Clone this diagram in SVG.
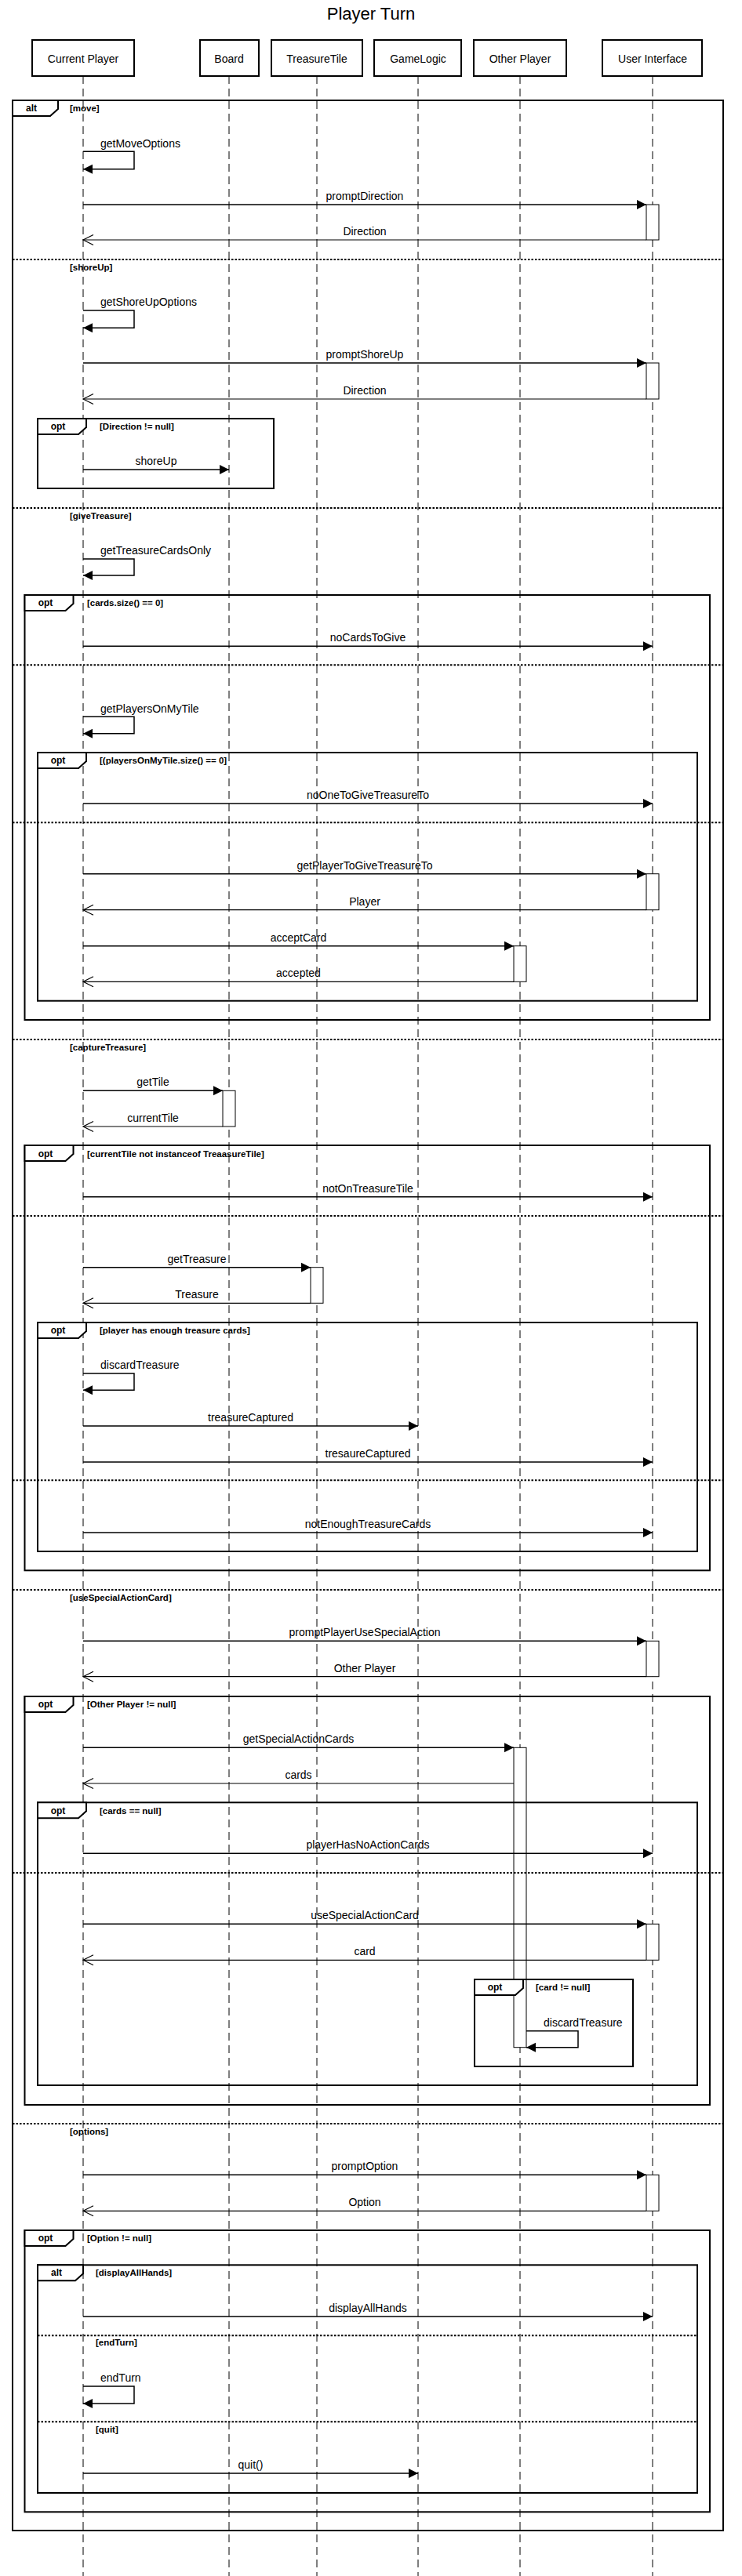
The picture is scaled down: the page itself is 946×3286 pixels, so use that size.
<svg xmlns="http://www.w3.org/2000/svg" width="946" height="3286" viewBox="0 0 946 3286">
<style>
text{font-family:"Liberation Sans",Arial,sans-serif;fill:#000}
.title{font-size:22px;text-anchor:middle}
.pt{font-size:14px;text-anchor:middle}
.ml{font-size:14px;text-anchor:middle}
.sl{font-size:14px}
.g{font-size:11.5px;font-weight:bold}
.op{font-size:12px;font-weight:bold;text-anchor:middle}
.box{fill:#fff;stroke:#000;stroke-width:2}
.life{stroke:#000;stroke-width:1;stroke-dasharray:10,6;fill:none}
.act{fill:#fff;stroke:#000;stroke-width:1}
.frame{fill:none;stroke:#000;stroke-width:2}
.tab{fill:#fff;stroke:#000;stroke-width:2}
.sep{stroke:#000;stroke-width:2;stroke-dasharray:2.5,2;fill:none}
.call{stroke:#000;stroke-width:1.5;fill:none;marker-end:url(#fa)}
.ret{stroke:#000;stroke-width:1.2;fill:none;marker-end:url(#oa)}
</style>
<defs>
<marker id="fa" markerUnits="userSpaceOnUse" markerWidth="13" markerHeight="13" refX="12" refY="6" orient="auto" overflow="visible"><path d="M0,0 L12,6 L0,12 Z" fill="#000"/></marker>
<marker id="oa" markerUnits="userSpaceOnUse" markerWidth="14" markerHeight="14" refX="13" refY="6.5" orient="auto" overflow="visible"><path d="M0,0 L13,6.5 L0,13" fill="none" stroke="#000" stroke-width="1.2"/></marker>
</defs>
<rect width="946" height="3286" fill="#fff"/>
<text class="title" x="473" y="25">Player Turn</text>
<g id="lifelines">
<line class="life" x1="106" y1="97" x2="106" y2="3286"/>
<line class="life" x1="292" y1="97" x2="292" y2="3286"/>
<line class="life" x1="404" y1="97" x2="404" y2="3286"/>
<line class="life" x1="533" y1="97" x2="533" y2="3286"/>
<line class="life" x1="663" y1="97" x2="663" y2="3286"/>
<line class="life" x1="832" y1="97" x2="832" y2="3286"/>
</g>
<g id="p-current-player"><rect class="box" x="41" y="51" width="130" height="46"/><text class="pt" x="106" y="80">Current Player</text></g>
<g id="p-board"><rect class="box" x="255" y="51" width="75" height="46"/><text class="pt" x="292" y="80">Board</text></g>
<g id="p-treasuretile"><rect class="box" x="346" y="51" width="116" height="46"/><text class="pt" x="404" y="80">TreasureTile</text></g>
<g id="p-gamelogic"><rect class="box" x="477" y="51" width="111" height="46"/><text class="pt" x="533" y="80">GameLogic</text></g>
<g id="p-other-player"><rect class="box" x="604" y="51" width="118" height="46"/><text class="pt" x="663" y="80">Other Player</text></g>
<g id="p-user-interface"><rect class="box" x="768" y="51" width="127" height="46"/><text class="pt" x="832" y="80">User Interface</text></g>
<g id="activations">
<rect class="act" x="824" y="261" width="16" height="45"/>
<rect class="act" x="824" y="463" width="16" height="46"/>
<rect class="act" x="824" y="1114.7" width="16" height="46"/>
<rect class="act" x="655" y="1206.7" width="16" height="45.6"/>
<rect class="act" x="284" y="1391.3" width="16" height="45.7"/>
<rect class="act" x="396" y="1616.7" width="16" height="45.6"/>
<rect class="act" x="824" y="2093.3" width="16" height="45.4"/>
<rect class="act" x="655" y="2229.3" width="16" height="382.4"/>
<rect class="act" x="824" y="2454.3" width="16" height="46"/>
<rect class="act" x="824" y="2774.3" width="16" height="46"/>
</g>
<g id="frame-alt-main">
<rect class="frame" x="16" y="128" width="906" height="3100"/>
<path class="tab" d="M16,128 H74 V139 L64,148 H16 Z"/>
<text class="op" x="40" y="142">alt</text>
<text class="g" x="89" y="142">[move]</text>
<line class="sep" x1="16" y1="331" x2="922" y2="331"/>
<text class="g" x="89" y="345">[shoreUp]</text>
<line class="sep" x1="16" y1="648" x2="922" y2="648"/>
<text class="g" x="89" y="662">[giveTreasure]</text>
<line class="sep" x1="16" y1="1326" x2="922" y2="1326"/>
<text class="g" x="89" y="1340">[captureTreasure]</text>
<line class="sep" x1="16" y1="2028" x2="922" y2="2028"/>
<text class="g" x="89" y="2042">[useSpecialActionCard]</text>
<line class="sep" x1="16" y1="2709" x2="922" y2="2709"/>
<text class="g" x="89" y="2723">[options]</text>
</g>
<g id="frame-opt-direction">
<rect class="frame" x="48" y="534" width="301" height="89"/>
<path class="tab" d="M48,534 H110 V545 L100,554 H48 Z"/>
<text class="op" x="74" y="548">opt</text>
<text class="g" x="127" y="548">[Direction != null]</text>
</g>
<g id="frame-opt-cards-size">
<rect class="frame" x="31.5" y="759" width="873.5" height="542"/>
<path class="tab" d="M31.5,759 H93.5 V770 L83.5,779 H31.5 Z"/>
<text class="op" x="58" y="773">opt</text>
<text class="g" x="111" y="773">[cards.size() == 0]</text>
<line class="sep" x1="16" y1="848.3" x2="922" y2="848.3"/>
</g>
<g id="frame-opt-players">
<rect class="frame" x="48" y="960" width="841" height="316.7"/>
<path class="tab" d="M48,960 H110 V971 L100,980 H48 Z"/>
<text class="op" x="74" y="974">opt</text>
<text class="g" x="127" y="974">[(playersOnMyTile.size() == 0]</text>
<line class="sep" x1="16" y1="1049.3" x2="922" y2="1049.3"/>
</g>
<g id="frame-opt-currenttile">
<rect class="frame" x="31.5" y="1461" width="873.5" height="542.3"/>
<path class="tab" d="M31.5,1461 H93.5 V1472 L83.5,1481 H31.5 Z"/>
<text class="op" x="58" y="1476">opt</text>
<text class="g" x="111" y="1476">[currentTile not instanceof TreaasureTile]</text>
<line class="sep" x1="16" y1="1551" x2="922" y2="1551"/>
</g>
<g id="frame-opt-enough">
<rect class="frame" x="48" y="1687" width="841" height="292"/>
<path class="tab" d="M48,1687 H110 V1698 L100,1707 H48 Z"/>
<text class="op" x="74" y="1701">opt</text>
<text class="g" x="127" y="1701">[player has enough treasure cards]</text>
<line class="sep" x1="16" y1="1888.3" x2="922" y2="1888.3"/>
</g>
<g id="frame-opt-otherplayer">
<rect class="frame" x="31.5" y="2164" width="873.5" height="521"/>
<path class="tab" d="M31.5,2164 H93.5 V2175 L83.5,2184 H31.5 Z"/>
<text class="op" x="58" y="2178">opt</text>
<text class="g" x="111" y="2178">[Other Player != null]</text>
</g>
<g id="frame-opt-cards-null">
<rect class="frame" x="48" y="2299.3" width="841" height="360.7"/>
<path class="tab" d="M48,2299.3 H110 V2310.3 L100,2319.3 H48 Z"/>
<text class="op" x="74" y="2313.5">opt</text>
<text class="g" x="127" y="2313.5">[cards == null]</text>
<line class="sep" x1="16" y1="2389" x2="922" y2="2389"/>
</g>
<g id="frame-opt-card">
<rect class="frame" x="605" y="2525" width="202" height="111"/>
<path class="tab" d="M605,2525 H667 V2536 L657,2545 H605 Z"/>
<text class="op" x="631" y="2539">opt</text>
<text class="g" x="683" y="2539">[card != null]</text>
</g>
<g id="frame-opt-option">
<rect class="frame" x="31.5" y="2845" width="873.5" height="359.3"/>
<path class="tab" d="M31.5,2845 H93.5 V2856 L83.5,2865 H31.5 Z"/>
<text class="op" x="58" y="2859">opt</text>
<text class="g" x="111" y="2859">[Option != null]</text>
</g>
<g id="frame-alt-option">
<rect class="frame" x="48" y="2889.3" width="841" height="290.7"/>
<path class="tab" d="M48,2889.3 H106 V2900.3 L96,2909.3 H48 Z"/>
<text class="op" x="72" y="2903">alt</text>
<text class="g" x="122" y="2903">[displayAllHands]</text>
<line class="sep" x1="48" y1="2979.3" x2="889" y2="2979.3"/>
<text class="g" x="122" y="2992">[endTurn]</text>
<line class="sep" x1="48" y1="3089.3" x2="889" y2="3089.3"/>
<text class="g" x="122" y="3103">[quit]</text>
</g>
<g id="connectors">
<path class="call" d="M106,193.3 H171 V215.7 H106"/><text class="sl" x="128" y="187.5">getMoveOptions</text>
<line class="call" x1="106" y1="261" x2="824" y2="261"/><text class="ml" x="465" y="255">promptDirection</text>
<line class="ret" x1="824" y1="306" x2="106" y2="306"/><text class="ml" x="465" y="300">Direction</text>
<path class="call" d="M106,396 H171 V418.3 H106"/><text class="sl" x="128" y="390">getShoreUpOptions</text>
<line class="call" x1="106" y1="463" x2="824" y2="463"/><text class="ml" x="465" y="457">promptShoreUp</text>
<line class="ret" x1="824" y1="509" x2="106" y2="509"/><text class="ml" x="465" y="503">Direction</text>
<line class="call" x1="106" y1="599" x2="292" y2="599"/><text class="ml" x="199" y="593">shoreUp</text>
<path class="call" d="M106,713 H171 V734 H106"/><text class="sl" x="128" y="707">getTreasureCardsOnly</text>
<line class="call" x1="106" y1="824.3" x2="832" y2="824.3"/><text class="ml" x="469" y="818">noCardsToGive</text>
<path class="call" d="M106,914.3 H171 V935.7 H106"/><text class="sl" x="128" y="908.5">getPlayersOnMyTile</text>
<line class="call" x1="106" y1="1025" x2="832" y2="1025"/><text class="ml" x="469" y="1019">noOneToGiveTreasureTo</text>
<line class="call" x1="106" y1="1114.7" x2="824" y2="1114.7"/><text class="ml" x="465" y="1108.5">getPlayerToGiveTreasureTo</text>
<line class="ret" x1="824" y1="1160.7" x2="106" y2="1160.7"/><text class="ml" x="465" y="1154.5">Player</text>
<line class="call" x1="106" y1="1206.7" x2="655" y2="1206.7"/><text class="ml" x="380.5" y="1200.5">acceptCard</text>
<line class="ret" x1="655" y1="1252.3" x2="106" y2="1252.3"/><text class="ml" x="380.5" y="1246">accepted</text>
<line class="call" x1="106" y1="1391.3" x2="284" y2="1391.3"/><text class="ml" x="195" y="1385">getTile</text>
<line class="ret" x1="284" y1="1437" x2="106" y2="1437"/><text class="ml" x="195" y="1431">currentTile</text>
<line class="call" x1="106" y1="1526.7" x2="832" y2="1526.7"/><text class="ml" x="469" y="1520.5">notOnTreasureTile</text>
<line class="call" x1="106" y1="1616.7" x2="396" y2="1616.7"/><text class="ml" x="251" y="1610.5">getTreasure</text>
<line class="ret" x1="396" y1="1662.3" x2="106" y2="1662.3"/><text class="ml" x="251" y="1656">Treasure</text>
<path class="call" d="M106,1752 H171 V1773.3 H106"/><text class="sl" x="128" y="1746">discardTreasure</text>
<line class="call" x1="106" y1="1819" x2="533" y2="1819"/><text class="ml" x="319.5" y="1813">treasureCaptured</text>
<line class="call" x1="106" y1="1865" x2="832" y2="1865"/><text class="ml" x="469" y="1859">tresaureCaptured</text>
<line class="call" x1="106" y1="1955" x2="832" y2="1955"/><text class="ml" x="469" y="1949">notEnoughTreasureCards</text>
<line class="call" x1="106" y1="2093.3" x2="824" y2="2093.3"/><text class="ml" x="465" y="2087">promptPlayerUseSpecialAction</text>
<line class="ret" x1="824" y1="2138.7" x2="106" y2="2138.7"/><text class="ml" x="465" y="2132.5">Other Player</text>
<line class="call" x1="106" y1="2229.3" x2="655" y2="2229.3"/><text class="ml" x="380.5" y="2223">getSpecialActionCards</text>
<line class="ret" x1="655" y1="2275" x2="106" y2="2275"/><text class="ml" x="380.5" y="2269">cards</text>
<line class="call" x1="106" y1="2364.3" x2="832" y2="2364.3"/><text class="ml" x="469" y="2358">playerHasNoActionCards</text>
<line class="call" x1="106" y1="2454.3" x2="824" y2="2454.3"/><text class="ml" x="465" y="2448">useSpecialActionCard</text>
<line class="ret" x1="824" y1="2500.3" x2="106" y2="2500.3"/><text class="ml" x="465" y="2494">card</text>
<path class="call" d="M671,2590.7 H737 V2611.7 H671"/><text class="sl" x="693" y="2584.5">discardTreasure</text>
<line class="call" x1="106" y1="2774.3" x2="824" y2="2774.3"/><text class="ml" x="465" y="2768">promptOption</text>
<line class="ret" x1="824" y1="2820.3" x2="106" y2="2820.3"/><text class="ml" x="465" y="2814">Option</text>
<line class="call" x1="106" y1="2955" x2="832" y2="2955"/><text class="ml" x="469" y="2949">displayAllHands</text>
<path class="call" d="M106,3044 H171 V3066 H106"/><text class="sl" x="128" y="3038">endTurn</text>
<line class="call" x1="106" y1="3155" x2="533" y2="3155"/><text class="ml" x="319.5" y="3149">quit()</text>
</g>
</svg>
